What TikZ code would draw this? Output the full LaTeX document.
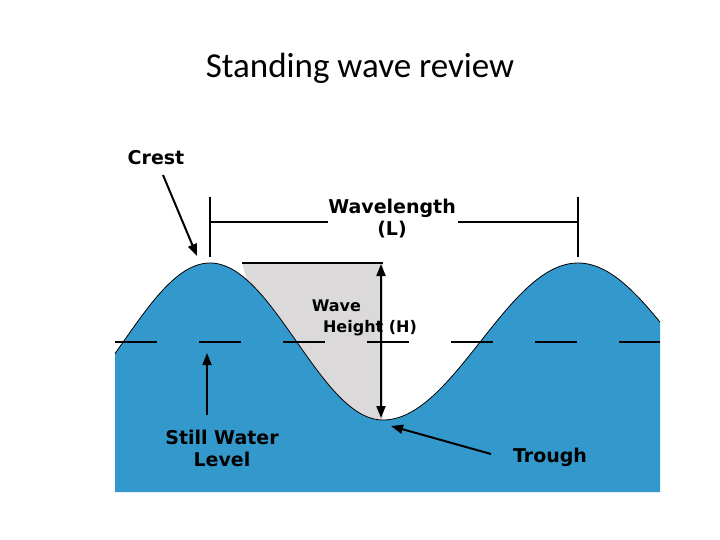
\documentclass[tikz,border=0pt]{standalone}
\usepackage{fontspec}
\setmainfont{Carlito}
\newfontfamily\lbl{DejaVu Sans}
\usetikzlibrary{arrows.meta}
\definecolor{sea}{HTML}{3399CC}
\definecolor{grayfill}{HTML}{DCD9DA}
\tikzset{lab/.style={font=\lbl\bfseries\fontsize{19}{22}\selectfont,align=center,inner sep=0pt},
 ln/.style={line width=2pt},
 arr/.style={line width=2pt,-{Triangle[length=12pt,width=9pt]}}}
\begin{document}
\begin{tikzpicture}[x=1pt,y=-1pt]
\useasboundingbox (0,0) rectangle (720,540);
\node (title) at (360,68) {\fontsize{35}{40}\selectfont Standing wave review};
% water
\fill[sea] (115,492) -- plot[domain=115:210,samples=40] (\x,{341.5-78.5*cos(1.0405*(\x-210))})
 -- plot[domain=210:383,samples=60] (\x,{341.5-78.5*cos(1.0405*(\x-210))})
 -- plot[domain=383:660,samples=80] (\x,{341.5+78.5*cos(0.9231*(\x-383))}) -- (660,492) -- cycle;
% gray
\fill[grayfill] (242,263) -- plot[domain=247:383,samples=60] (\x,{341.5-78.5*cos(1.0405*(\x-210))}) -- (383,263) -- cycle;
\draw[line width=0.8pt] plot[domain=115:383,samples=100] (\x,{341.5-78.5*cos(1.0405*(\x-210))})
 -- plot[domain=383:660,samples=80] (\x,{341.5+78.5*cos(0.9231*(\x-383))});
% still water dashes
\draw[line width=1.6pt,dash pattern=on 42pt off 42pt] (115,342) -- (660,342);
% wavelength
\coordinate (b1t) at (210,197); \coordinate (b1b) at (210,257);
\coordinate (b2t) at (578,197); \coordinate (b2b) at (578,257);
\draw[ln] (b1t) -- (b1b); \draw[ln] (b2t) -- (b2b);
\node[lab] (wl) at (392,219) {Wavelength\\(L)};
\draw[ln] (210,222) -- (328,222); \draw[ln] (458,222) -- (578,222);
% height
\draw[line width=1.6pt] (242,263) -- (383,263);
\coordinate (ht) at (381,264); \coordinate (hb) at (381,418);
\draw[line width=2pt,{Triangle[length=12pt,width=9pt]}-{Triangle[length=12pt,width=9pt]}] (ht) -- (hb);
\node[lab,font=\lbl\bfseries\fontsize{16}{21}\selectfont] (wh) at (370,318) {\hspace*{-4.2em}Wave\\Height (H)};
% labels
\node[lab] (crest) at (156,158) {Crest};
\coordinate (ct) at (197,256);
\draw[arr] (163,175) -- (ct);
\node[lab] (swl) at (222,448) {Still Water\\Level};
\coordinate (st) at (207,353);
\draw[arr] (207,415) -- (st);
\node[lab] (tr) at (550,457) {Trough};
\coordinate (tt) at (391,426);
\draw[arr] (491,454) -- (tt);
\end{tikzpicture}
\end{document}
